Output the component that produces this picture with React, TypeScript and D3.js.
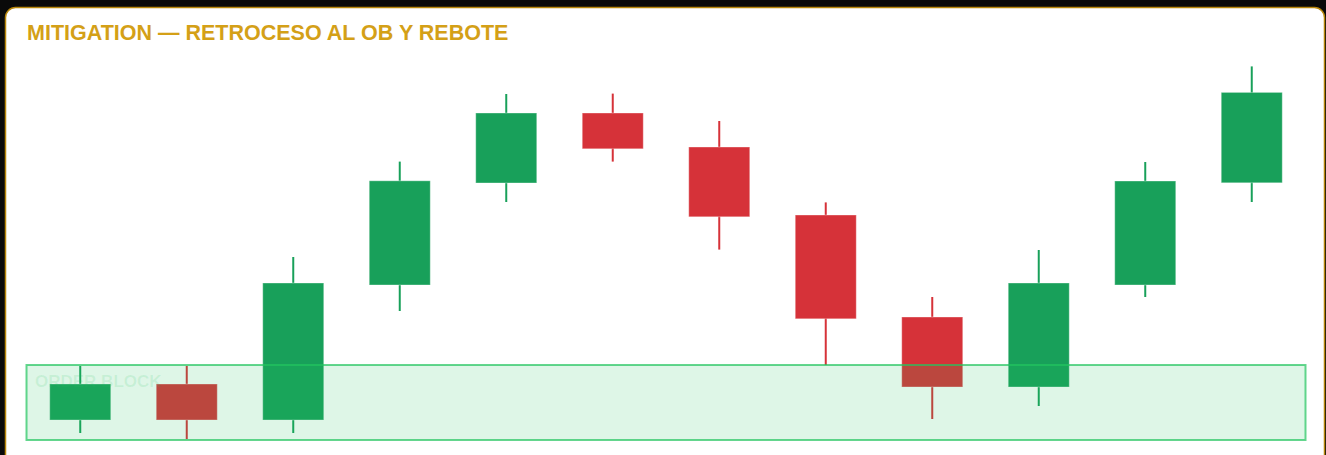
import React, { useEffect, useRef } from 'react';
import * as d3 from 'd3';

// candle data (price units, 0..100)
const opens = [5, 14, 5, 38.75, 64.25, 81.75, 73.25, 56.25, 30.75, 13.25, 38.75, 64.3];
const closes = [14, 5, 39.25, 64.8, 81.75, 72.8, 55.8, 30.3, 13.25, 39.25, 64.75, 86.9];
const highs = [18.5, 18.5, 45.75, 69.6, 86.5, 86.6, 79.75, 59.4, 35.75, 47.5, 69.5, 93.4];
const lows = [1.75, 0.25, 1.75, 32.25, 59.5, 69.6, 47.6, 18.75, 5.25, 8.5, 35.75, 59.5];
const zoneTop = 18.75;
const zoneBottom = 0;
const title = 'MITIGATION — RETROCESO AL OB Y REBOTE';
const zoneLabel = 'ORDER BLOCK';

const App = () => {
    const ref = useRef<SVGSVGElement>(null);

    useEffect(() => {
        const W = 1326;
        const H = 455;
        const svg = d3.select(ref.current).attr('width', W).attr('height', H);
        svg.selectAll('*').remove();

        svg.append('rect').attr('width', W).attr('height', H).attr('fill', '#0a0a0a');
        svg.append('rect')
            .attr('x', 5.5)
            .attr('y', 7.5)
            .attr('width', 1319)
            .attr('height', 470)
            .attr('rx', 10)
            .attr('fill', '#ffffff')
            .attr('stroke', '#b8860b')
            .attr('stroke-width', 1.5);

        svg.append('text')
            .attr('x', 27)
            .attr('y', 40)
            .text(title)
            .style('font-family', '"Liberation Sans", Arial, sans-serif')
            .style('font-weight', 700)
            .style('font-size', '21.5px')
            .attr('fill', '#d4a017');

        const x = d3
            .scaleBand<number>()
            .domain(d3.range(opens.length))
            .range([27, 1305])
            .paddingInner(0.427)
            .paddingOuter(0.2135);
        const y = d3.scaleLinear().domain([0, 100]).range([440, 40]);

        const data = opens.map((o, i) => ({ o, c: closes[i], h: highs[i], l: lows[i], i }));
        const color = (d: any) => (d.c >= d.o ? '#18a05a' : '#d63239');

        const g = svg.append('g');
        g.selectAll('line')
            .data(data)
            .join('line')
            .attr('x1', d => x(d.i)! + x.bandwidth() / 2)
            .attr('x2', d => x(d.i)! + x.bandwidth() / 2)
            .attr('y1', d => y(d.h))
            .attr('y2', d => y(d.l))
            .attr('stroke', color)
            .attr('stroke-width', 2);
        g.selectAll('rect')
            .data(data)
            .join('rect')
            .attr('x', d => x(d.i)!)
            .attr('y', d => y(Math.max(d.o, d.c)))
            .attr('width', x.bandwidth())
            .attr('height', d => y(Math.min(d.o, d.c)) - y(Math.max(d.o, d.c)))
            .attr('fill', color)
            .attr('stroke', 'rgba(255,255,255,0.35)')
            .attr('stroke-width', 1);

        // order block zone on top
        svg.append('rect')
            .attr('x', 26.5)
            .attr('y', y(zoneTop))
            .attr('width', 1279)
            .attr('height', y(zoneBottom) - y(zoneTop))
            .attr('fill', 'rgba(34,197,94,0.15)')
            .attr('stroke', 'rgba(34,197,94,0.7)')
            .attr('stroke-width', 2);
        svg.append('text')
            .attr('x', 35)
            .attr('y', 387)
            .text(zoneLabel)
            .style('font-family', '"Liberation Sans", Arial, sans-serif')
            .style('font-weight', 700)
            .style('font-size', '17px')
            .attr('fill', 'rgba(34,197,94,0.13)');
    }, []);

    return (
        <div style={{ position: 'fixed', left: 0, top: 0, width: 1326, height: 455, overflow: 'hidden' }}>
            <svg ref={ref} style={{ display: 'block' }}></svg>
        </div>
    );
};

export default App;
